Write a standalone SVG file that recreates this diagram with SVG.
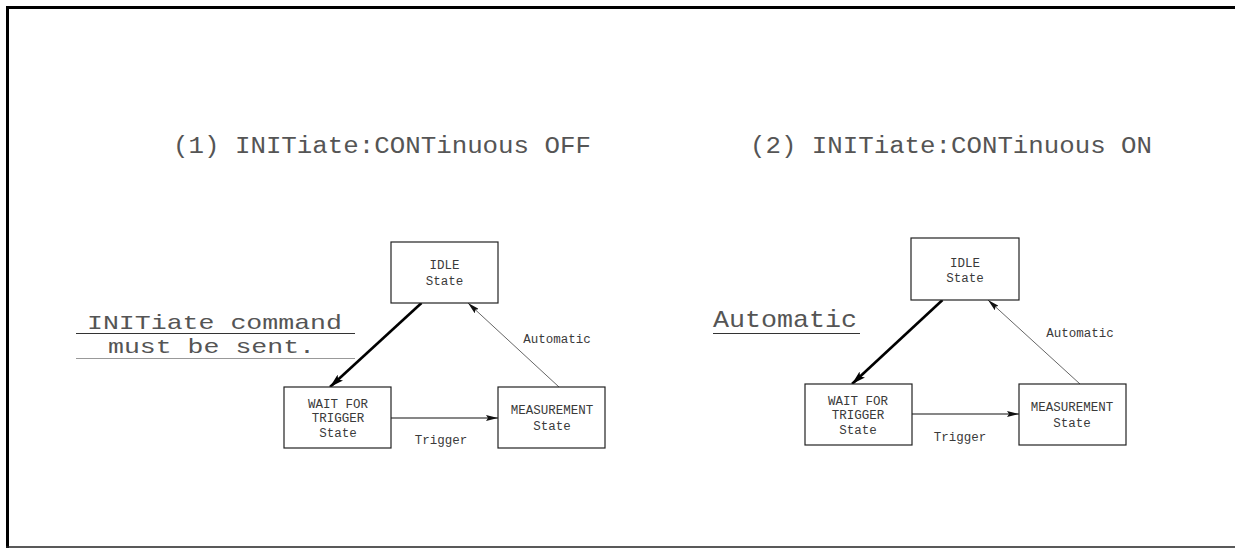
<svg xmlns="http://www.w3.org/2000/svg" width="1235" height="548" viewBox="0 0 1235 548">
<style>
.box{fill:#fff;stroke:#222;stroke-width:1.2}
.sm{font-family:"Liberation Mono","DejaVu Sans Mono",monospace;font-size:12.5px;fill:#3a3a3a;text-anchor:middle}
.lg{font-family:"Liberation Mono","DejaVu Sans Mono",monospace;font-size:23px;fill:#555}
.thick{stroke:#000;stroke-width:2.6;fill:none}
.thin{stroke:#555;stroke-width:0.9;fill:none}
.hor{stroke:#111;stroke-width:1.2;fill:none}
</style>
<defs>
<marker id="ahBig" markerUnits="userSpaceOnUse" viewBox="0 0 14 8" refX="14" refY="4" markerWidth="14" markerHeight="8" orient="auto">
<path d="M0,0 L14,4 L0,8 L3,4 z" fill="#000"/>
</marker>
<marker id="ah" markerUnits="userSpaceOnUse" viewBox="0 0 12 6" refX="12" refY="3" markerWidth="12" markerHeight="6" orient="auto">
<path d="M0,0 L12,3 L0,6 L2,3 z" fill="#111"/>
</marker>
</defs>
<rect width="1235" height="548" fill="#fff"/>
<g id="frame">
<rect x="6" y="6" width="1229" height="3" fill="#000"/>
<rect x="6" y="6" width="3" height="542" fill="#000"/>
<line x1="6" y1="547" x2="1235" y2="547" stroke="#222" stroke-width="1.5"/>
</g>
<g id="titles">
<text class="lg" x="173" y="153" textLength="418" lengthAdjust="spacingAndGlyphs">(1) INITiate:CONTinuous OFF</text>
<text class="lg" x="750" y="153" textLength="402" lengthAdjust="spacingAndGlyphs">(2) INITiate:CONTinuous ON</text>
</g>
<g id="note1">
<text class="lg" x="87" y="329" style="font-size:21px" textLength="255" lengthAdjust="spacingAndGlyphs">INITiate command</text>
<line x1="76" y1="333.5" x2="355" y2="333.5" stroke="#333" stroke-width="1"/>
<text class="lg" x="108" y="353" style="font-size:21px" textLength="207" lengthAdjust="spacingAndGlyphs">must be sent.</text>
<line x1="76" y1="358.5" x2="355" y2="358.5" stroke="#999" stroke-width="1"/>
</g>
<g id="note2">
<text class="lg" x="713" y="327" style="font-size:24px" textLength="144" lengthAdjust="spacingAndGlyphs">Automatic</text>
<line x1="713" y1="333.5" x2="860" y2="333.5" stroke="#333" stroke-width="1"/>
</g>
<g id="connectors">
<line class="thick" x1="421.5" y1="303" x2="330" y2="387" marker-end="url(#ahBig)"/>
<line class="thin" x1="559" y1="387" x2="468" y2="303" marker-end="url(#ah)"/>
<line class="hor" x1="391" y1="418" x2="498" y2="418" marker-end="url(#ah)"/>
<text class="sm" x="557" y="343">Automatic</text>
<text class="sm" x="441" y="444">Trigger</text>
<line class="thick" x1="942.5" y1="300" x2="852" y2="384" marker-end="url(#ahBig)"/>
<line class="thin" x1="1080" y1="384" x2="988" y2="300" marker-end="url(#ah)"/>
<line class="hor" x1="912" y1="414" x2="1019" y2="414" marker-end="url(#ah)"/>
<text class="sm" x="1080" y="337">Automatic</text>
<text class="sm" x="960" y="441">Trigger</text>
</g>
<g id="idle1">
<rect class="box" x="391" y="242" width="107" height="61"/>
<text class="sm" x="444.5" y="269">IDLE</text>
<text class="sm" x="444.5" y="285">State</text>
</g>
<g id="wait1">
<rect class="box" x="284" y="387" width="107" height="61"/>
<text class="sm" x="338" y="408">WAIT FOR</text>
<text class="sm" x="338" y="422">TRIGGER</text>
<text class="sm" x="338" y="437">State</text>
</g>
<g id="meas1">
<rect class="box" x="498" y="387" width="107" height="61"/>
<text class="sm" x="552" y="414">MEASUREMENT</text>
<text class="sm" x="552" y="430">State</text>
</g>
<g id="idle2">
<rect class="box" x="911" y="238" width="108" height="62"/>
<text class="sm" x="965" y="267">IDLE</text>
<text class="sm" x="965" y="282">State</text>
</g>
<g id="wait2">
<rect class="box" x="805" y="384" width="107" height="61"/>
<text class="sm" x="858" y="405">WAIT FOR</text>
<text class="sm" x="858" y="419">TRIGGER</text>
<text class="sm" x="858" y="434">State</text>
</g>
<g id="meas2">
<rect class="box" x="1019" y="384" width="107" height="61"/>
<text class="sm" x="1072" y="411">MEASUREMENT</text>
<text class="sm" x="1072" y="427">State</text>
</g>
</svg>
